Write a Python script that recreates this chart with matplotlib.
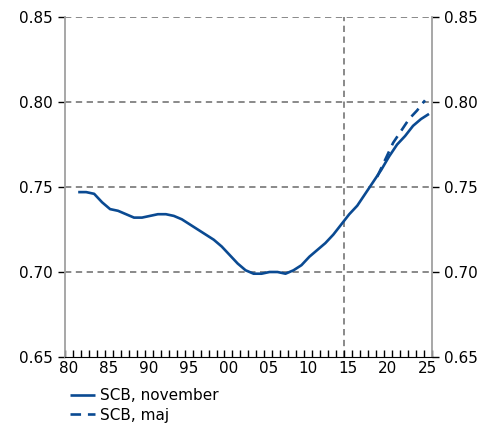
import matplotlib.pyplot as plt
import numpy as np

# decimal time, roughly mid-year points
years = np.arange(1981, 2026) + 0.65
scb_nov = [0.747, 0.747, 0.746, 0.741, 0.737, 0.736, 0.734, 0.732, 0.732, 0.733,
           0.734, 0.734, 0.733, 0.731, 0.728, 0.725, 0.722, 0.719, 0.715, 0.710,
           0.705, 0.701, 0.699, 0.699, 0.700, 0.700, 0.699, 0.701, 0.704, 0.709,
           0.713, 0.717, 0.722, 0.728, 0.734, 0.739, 0.746, 0.753, 0.760, 0.768,
           0.775, 0.780, 0.786, 0.790, 0.793]
maj_years = np.arange(2019, 2026) + 0.15
scb_maj = [0.756, 0.766, 0.776, 0.783, 0.790, 0.795, 0.801]

yticks = [0.65, 0.70, 0.75, 0.80, 0.85]
xlabels = ["80", "85", "90", "95", "00", "05", "10", "15", "20", "25"]

blue = "#0a4a92"
grid_col = "#808080"

plt.rcParams['font.family'] = ['DejaVu Sans']
plt.rcParams['font.size'] = 11

fig = plt.figure(figsize=(4.89, 4.26), dpi=100)
ax = fig.add_axes([0.133, 0.162, 0.750, 0.798])

l1, = ax.plot(years, scb_nov, color=blue, lw=1.9, solid_capstyle='butt')
l2, = ax.plot(maj_years, scb_maj, color=blue, lw=1.9, ls=(0, (4, 2.6)))

ax.set_xlim(1980, 2026)
ax.set_ylim(0.65, 0.85)

for v in yticks[1:]:
    ax.axhline(v, color=grid_col, lw=1.3, ls=(0, (3.5, 2.5)), zorder=0)
ax.axvline(2015, color=grid_col, lw=1.3, ls=(0, (3.5, 2.5)), zorder=0)

ax.set_yticks(yticks)
ax.set_yticklabels(["%.2f" % v for v in yticks])
ax.tick_params(axis='y', direction='out', length=5, width=1, colors='black',
               left=True, right=True, labelleft=True, labelright=True)

ax.set_xticks(np.arange(1980, 2027), minor=False)
ax.set_xticklabels([])
ax.tick_params(axis='x', which='major', direction='in', length=5, width=1, bottom=True)
ax.set_xticks(np.arange(1980, 2026, 5) + 0.5, minor=True)
ax.set_xticklabels(xlabels, minor=True)
ax.tick_params(axis='x', which='minor', length=0, pad=3)

ax.spines['top'].set_visible(False)
ax.spines['left'].set_color('#a0a0a0')
ax.spines['right'].set_color('#a0a0a0')
ax.spines['left'].set_linewidth(1.3)
ax.spines['right'].set_linewidth(1.3)
ax.spines['bottom'].set_color('black')

fig.legend([l1, l2], ["SCB, november", "SCB, maj"], loc='upper left',
           bbox_to_anchor=(0.143, 0.089), frameon=False, handlelength=1.65,
           handletextpad=0.3, labelspacing=0.3, borderaxespad=0, borderpad=0)

fig.savefig("out.png", dpi=100)
